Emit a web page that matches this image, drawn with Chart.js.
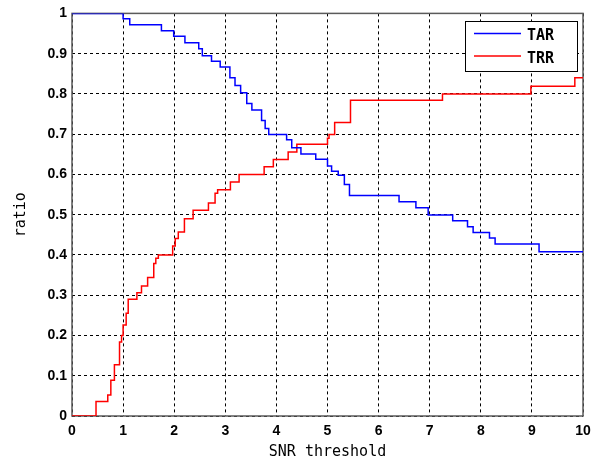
<!DOCTYPE html>
<html>
<head>
<meta charset="utf-8">
<script src="https://cdn.jsdelivr.net/npm/chart.js@4/dist/chart.umd.min.js"></script>
<style>
  body { margin: 0; background: #fff; }
  canvas { display: block; }
</style>
</head>
<body>
<canvas id="chart" width="605" height="462"></canvas>
<script>
// step positions (x where the new value starts) and values
const tarX = [0, 1.0, 1.13, 1.75, 1.99, 2.21, 2.48, 2.55, 2.73, 2.9, 3.09, 3.19, 3.3, 3.42, 3.52, 3.71, 3.78, 3.85,
    4.2, 4.3, 4.48, 4.77, 5.0, 5.08, 5.21, 5.33, 5.43, 6.4, 6.73, 6.97, 7.45, 7.74, 7.85, 8.17, 8.28, 9.14, 10];
const tarY = [1, 0.987, 0.972, 0.957, 0.943, 0.927, 0.912, 0.895, 0.881, 0.867, 0.84, 0.821, 0.803, 0.776, 0.76, 0.734, 0.714, 0.699,
    0.686, 0.666, 0.651, 0.638, 0.621, 0.608, 0.598, 0.575, 0.548, 0.532, 0.517, 0.499, 0.485, 0.47, 0.456, 0.442, 0.427, 0.408, 0.408];

const trrX = [0, 0.47, 0.7, 0.76, 0.83, 0.93, 0.97, 1.0, 1.06, 1.1, 1.27, 1.36, 1.48, 1.6, 1.64, 1.69, 1.97, 2.02, 2.08,
    2.2, 2.37, 2.67, 2.8, 2.85, 3.1, 3.27, 3.76, 3.94, 4.23, 4.4, 5.0, 5.03, 5.14, 5.45, 7.25, 8.98, 9.84, 10];
const trrY = [0, 0.036, 0.052, 0.089, 0.127, 0.184, 0.2, 0.226, 0.255, 0.29, 0.306, 0.323, 0.344, 0.379, 0.392, 0.4, 0.422, 0.441, 0.457,
    0.49, 0.511, 0.529, 0.553, 0.562, 0.581, 0.6, 0.619, 0.637, 0.656, 0.675, 0.69, 0.699, 0.729, 0.784, 0.8, 0.819, 0.84, 0.84];

const xTickLabels = ['0', '1', '2', '3', '4', '5', '6', '7', '8', '9', '10'];
const yTickLabels = ['0', '0.1', '0.2', '0.3', '0.4', '0.5', '0.6', '0.7', '0.8', '0.9', '1'];
const seriesNames = ['TAR', 'TRR'];

const tickFont = { family: '"Liberation Sans", Arial, sans-serif', size: 14, weight: 'bold' };
const titleFont = { family: '"DejaVu Sans Mono", "Liberation Mono", monospace', size: 15 };

function toPoints(xs, ys) {
    return xs.map((x, i) => ({ x: x, y: ys[i] }));
}

// matlab-like axes box, drawn under the lines
const boxPlugin = {
    id: 'box',
    beforeDatasetsDraw(chart) {
        const { ctx, chartArea: a } = chart;
        ctx.save();
        ctx.strokeStyle = '#5a5a5a';
        ctx.lineWidth = 1.5;
        ctx.strokeRect(a.left, a.top, a.right - a.left, a.bottom - a.top);
        ctx.restore();
    }
};

// legend box in the top right corner
const legendPlugin = {
    id: 'boxLegend',
    afterDraw(chart) {
        const ctx = chart.ctx;
        const left = 465, top = 21, w = 112, h = 50;
        ctx.save();
        ctx.fillStyle = '#fff';
        ctx.fillRect(left, top, w, h);
        ctx.strokeStyle = '#000';
        ctx.lineWidth = 1;
        ctx.strokeRect(left + 0.5, top + 0.5, w, h);
        chart.data.datasets.forEach((ds, i) => {
            const y = 33.5 + i * 22.5;
            ctx.strokeStyle = ds.borderColor;
            ctx.lineWidth = 1.5;
            ctx.beginPath();
            ctx.moveTo(474, y);
            ctx.lineTo(521, y);
            ctx.stroke();
            ctx.fillStyle = '#000';
            ctx.font = 'bold 15px "DejaVu Sans Mono", "Liberation Mono", monospace';
            ctx.textBaseline = 'middle';
            ctx.fillText(ds.label, 527, y + 3);
        });
        ctx.restore();
    }
};

new Chart(document.getElementById('chart'), {
    type: 'line',
    data: {
        datasets: [{
            label: seriesNames[0],
            data: toPoints(tarX, tarY),
            borderColor: '#0000ff',
            borderWidth: 1.5,
            stepped: true,
            pointRadius: 0,
            fill: false
        }, {
            label: seriesNames[1],
            data: toPoints(trrX, trrY),
            borderColor: '#ff0000',
            borderWidth: 1.5,
            stepped: true,
            pointRadius: 0,
            fill: false
        }]
    },
    options: {
        responsive: false,
        animation: false,
        layout: { padding: { top: 13, right: 22, left: 0, bottom: 0 } },
        plugins: {
            legend: { display: false },
            tooltip: { enabled: false }
        },
        scales: {
            x: {
                type: 'linear',
                min: 0,
                max: 10,
                afterFit: scale => { scale.height = 46; },
                grid: { color: '#000', lineWidth: 1, drawTicks: false },
                border: { display: false, dash: [3, 3] },
                ticks: {
                    stepSize: 1,
                    padding: 7,
                    color: '#000',
                    font: tickFont,
                    maxRotation: 0,
                    callback: (v, i) => xTickLabels[i]
                },
                title: {
                    display: true,
                    text: 'SNR threshold',
                    color: '#000',
                    font: titleFont,
                    padding: { top: 0, bottom: 1 }
                }
            },
            y: {
                min: 0,
                max: 1,
                afterFit: scale => { scale.width = 72; },
                grid: { color: '#000', lineWidth: 1, drawTicks: false },
                border: { display: false, dash: [3, 3] },
                ticks: {
                    stepSize: 0.1,
                    padding: 5,
                    color: '#000',
                    font: tickFont,
                    callback: (v, i) => yTickLabels[i]
                },
                title: {
                    display: true,
                    text: 'ratio',
                    color: '#000',
                    font: titleFont,
                    padding: { top: 12, bottom: 0 }
                }
            }
        }
    },
    plugins: [boxPlugin, legendPlugin]
});
</script>
</body>
</html>
